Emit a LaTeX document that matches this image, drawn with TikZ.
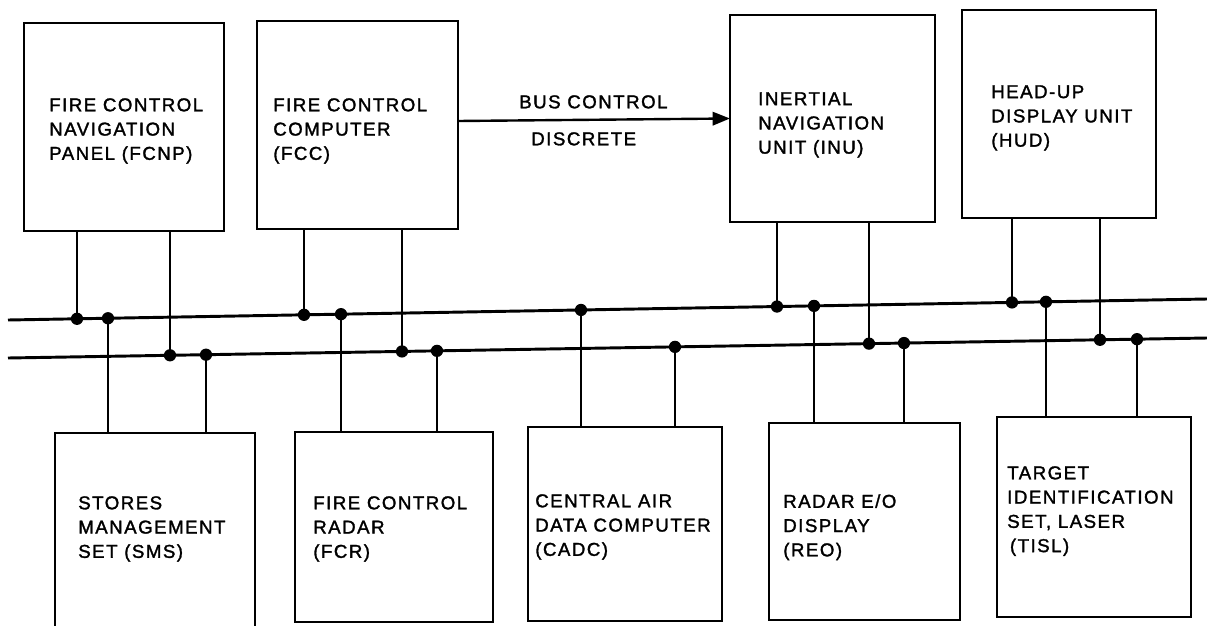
\documentclass[tikz,border=0pt]{standalone}
\usepackage{fontspec}
\setmainfont{Liberation Sans}[LetterSpace=8,FakeBold=1.6]
\usetikzlibrary{calc,arrows.meta}
\tikzset{
  box/.style={draw, line width=2pt, inner sep=0pt, outer sep=0pt, rectangle},
  lbl/.style={anchor=north west, inner sep=0pt, align=left, font=\fontsize{14}{18.2}\selectfont},
  busline/.style={line width=2.2pt},
  tapline/.style={line width=2.2pt},
}
\newcommand\unitbox[5]{%
  \node[box, anchor=north west, minimum width={(#4-#2)*0.75pt}, minimum height={(#5-#3)*0.75pt}] (#1) at (#2,#3) {};}
\newcommand\bustap[4]{% #1 node, #2 anchor, #3 x, #4 bus
  \coordinate (tp) at ($(#4a)!{(#3-8)/1199}!(#4b)$);
  \draw[tapline] (tp) -- (tp |- #1.#2);
  \fill (tp) circle[radius=4.6pt];}
\begin{document}
\begin{tikzpicture}[x=0.75pt,y=-0.75pt]
\useasboundingbox (0,0) rectangle (1207,625);
\clip (0,0) rectangle (1207,625);
% buses
\coordinate (ua) at (8,320);
\coordinate (ub) at (1207,299);
\coordinate (la) at (8,358);
\coordinate (lb) at (1207,338);
\draw[busline] (ua) -- (ub);
\draw[busline] (la) -- (lb);
% top boxes
\unitbox{fcnp}{24}{23}{224}{231}
\unitbox{fcc}{257}{21}{458}{229}
\unitbox{inu}{730}{15}{935}{222}
\unitbox{hud}{962}{10}{1156}{218}
% bottom boxes
\unitbox{sms}{55}{433}{255}{660}
\unitbox{fcr}{295}{432}{493}{622}
\unitbox{cadc}{528}{427}{722}{621}
\unitbox{reo}{769}{423}{960}{620}
\unitbox{tisl}{997}{417}{1191}{617}
% labels
\node[lbl] (tfcnp) at (49,98) {FIRE CONTROL\\NAVIGATION\\PANEL (FCNP)};
\node[lbl] (tfcc) at (273,98) {FIRE CONTROL\\COMPUTER\\(FCC)};
\node[lbl] (tinu) at (758,92) {INERTIAL\\NAVIGATION\\UNIT (INU)};
\node[lbl] (thud) at (991,85) {HEAD-UP\\DISPLAY UNIT\\(HUD)};
\node[lbl] (tsms) at (78,496) {STORES\\MANAGEMENT\\SET (SMS)};
\node[lbl] (tfcr) at (313,496) {FIRE CONTROL\\RADAR\\(FCR)};
\node[lbl] (tcadc) at (535,494) {CENTRAL AIR\\DATA COMPUTER\\(CADC)};
\node[lbl] (treo) at (783,494) {RADAR E/O\\DISPLAY\\(REO)};
\node[lbl] (ttisl) at (1007,466) {TARGET\\IDENTIFICATION\\SET, LASER\\\hspace{2pt}(TISL)};
\node[lbl] (tbus) at (519,95) {BUS CONTROL};
\node[lbl] (tdisc) at (531,132) {DISCRETE};
% bus control discrete arrow
\coordinate (ya) at (0,121);
\draw[line width=1.8pt, -{Triangle[length=13pt,width=10pt]}] (fcc.east |- ya) -- (inu.west);
% taps
\bustap{fcnp}{south}{77}{u}
\bustap{fcnp}{south}{170}{l}
\bustap{sms}{north}{108}{u}
\bustap{sms}{north}{206}{l}
\bustap{fcc}{south}{304}{u}
\bustap{fcc}{south}{402}{l}
\bustap{fcr}{north}{341}{u}
\bustap{fcr}{north}{437}{l}
\bustap{cadc}{north}{581}{u}
\bustap{cadc}{north}{675}{l}
\bustap{inu}{south}{777}{u}
\bustap{inu}{south}{869}{l}
\bustap{reo}{north}{814}{u}
\bustap{reo}{north}{904}{l}
\bustap{hud}{south}{1012}{u}
\bustap{hud}{south}{1100}{l}
\bustap{tisl}{north}{1046}{u}
\bustap{tisl}{north}{1137}{l}
\end{tikzpicture}
\end{document}
